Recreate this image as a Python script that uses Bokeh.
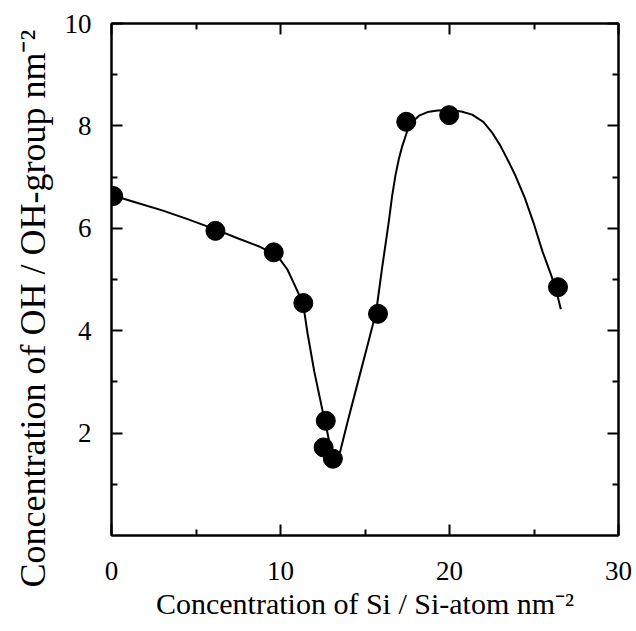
from bokeh.plotting import figure
from bokeh.models import LinearAxis, FixedTicker, Range1d, CustomJSTickFormatter, Title
from bokeh.embed import file_html
from bokeh.resources import INLINE

# measured points
si_conc = [0.1, 6.15, 9.6, 11.35, 12.68, 12.55, 13.1, 15.77, 17.44, 19.98, 26.42]
oh_conc = [6.63, 5.95, 5.53, 4.54, 2.24, 1.72, 1.50, 4.33, 8.08, 8.21, 4.85]

# smooth guide curve
fit_x = [0.0, 1.5, 3.0, 4.5, 6.15, 7.5, 8.7, 9.6, 10.0, 10.4, 10.8, 11.1, 11.35,
         11.6, 12.0, 12.5, 12.75, 12.95, 13.15, 13.3, 13.46, 14.0, 14.6, 15.2,
         15.66, 16.0, 16.4, 16.6, 16.8, 17.0, 17.2, 17.5, 17.8, 18.2, 18.7,
         19.3, 19.96, 20.7, 21.34, 22.0, 22.5, 23.0, 23.5, 23.9, 24.45, 25.0,
         25.5, 26.0, 26.3, 26.59]
fit_y = [6.65, 6.5, 6.35, 6.18, 5.98, 5.8, 5.65, 5.5, 5.38, 5.2, 4.92, 4.7, 4.5,
         3.95, 3.2, 2.42, 2.05, 1.72, 1.52, 1.44, 1.55, 2.26, 3.02, 3.78,
         4.37, 5.2, 6.11, 6.62, 7.03, 7.35, 7.6, 7.9, 8.08, 8.2, 8.27,
         8.3, 8.31, 8.28, 8.22, 8.08, 7.88, 7.62, 7.3, 7.03, 6.6, 6.08,
         5.55, 5.1, 4.8, 4.42]

x_ticks = [0, 10, 20, 30]
x_minor = [5, 15, 25]
y_ticks = [2, 4, 6, 8, 10]
y_minor = [1, 3, 5, 7, 9]

x_title = "Concentration of Si / Si-atom nm\u207b\u00b2"
y_title = "Concentration of OH / OH-group nm\u207b\u00b2"

FONT = "Liberation Serif"

p = figure(width=636, height=631, x_range=Range1d(0, 30), y_range=Range1d(0, 10),
           x_axis_type=None, y_axis_type=None, output_backend="svg",
           toolbar_location=None, min_border_left=111, min_border_right=18,
           min_border_top=23, min_border_bottom=96)
p.outline_line_color = "black"
p.outline_line_width = 2
p.background_fill_color = "white"
p.border_fill_color = "white"


def style(ax, show_labels):
    ax.axis_line_width = 2
    ax.axis_line_color = "black"
    ax.major_tick_in = 11
    ax.major_tick_out = 0
    ax.minor_tick_in = 6
    ax.minor_tick_out = 0
    ax.major_tick_line_width = 2
    ax.minor_tick_line_width = 2
    ax.major_tick_line_color = "black"
    ax.minor_tick_line_color = "black"
    ax.major_label_text_font = FONT
    ax.major_label_text_font_size = "27px"
    ax.major_label_text_font_style = "normal"
    ax.major_label_text_color = "black"
    if not show_labels:
        ax.formatter = CustomJSTickFormatter(code="return ''")
        ax.major_label_standoff = 0


xb = LinearAxis(ticker=FixedTicker(ticks=x_ticks, minor_ticks=x_minor))
style(xb, True)
xb.major_label_standoff = 26
xb.axis_label = x_title
xb.axis_label_text_font = FONT
xb.axis_label_text_font_size = "30px"
xb.axis_label_text_font_style = "normal"
xb.axis_label_text_color = "black"
xb.axis_label_standoff = 4
p.add_layout(xb, "below")

xt = LinearAxis(ticker=FixedTicker(ticks=x_ticks, minor_ticks=x_minor))
style(xt, False)
p.add_layout(xt, "above")

yl = LinearAxis(ticker=FixedTicker(ticks=y_ticks, minor_ticks=y_minor))
style(yl, True)
yl.major_label_standoff = 20
p.add_layout(yl, "left")

yr = LinearAxis(ticker=FixedTicker(ticks=y_ticks, minor_ticks=y_minor))
style(yr, False)
p.add_layout(yr, "right")

p.add_layout(Title(text=y_title, align="left", offset=-52, vertical_align="top",
                   text_font=FONT, text_font_size="36px", text_font_style="normal",
                   text_color="black", standoff=14), "left")

p.line(fit_x, fit_y, line_width=2, line_color="black")
p.scatter(si_conc, oh_conc, marker="circle", size=19, fill_color="black", line_color="black")

open("out.html", "w").write(file_html(p, INLINE))
